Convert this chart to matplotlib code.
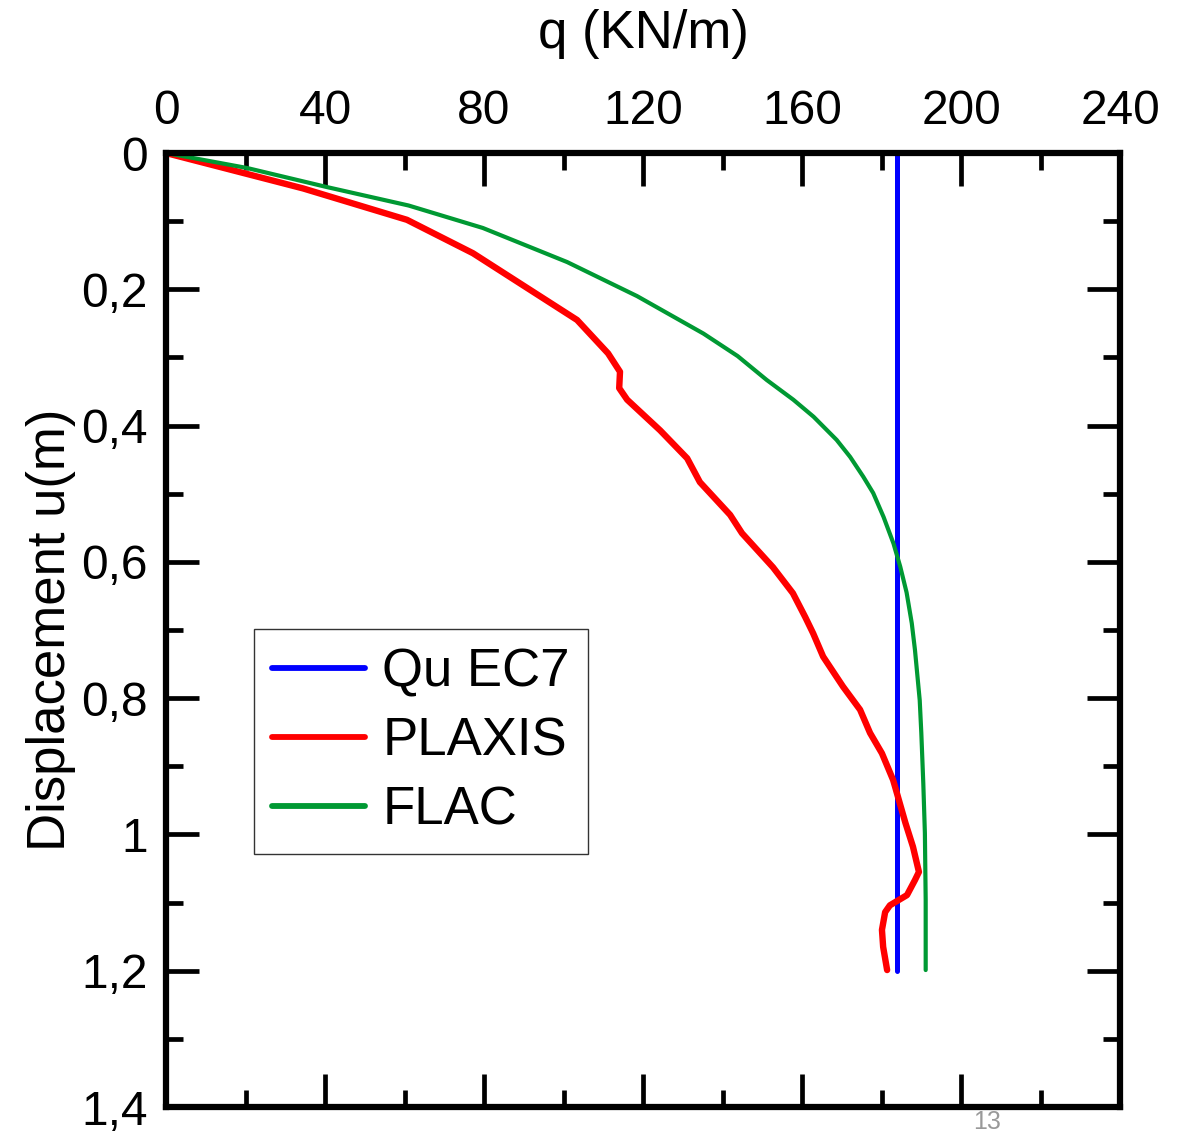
import numpy as np
import matplotlib.pyplot as plt
from matplotlib.ticker import MultipleLocator, FuncFormatter

plt.rcParams['font.family'] = ['Liberation Sans', 'DejaVu Sans']

# Qu EC7 (constant)
qu_ec7 = 184.0
qu_u = [0.0, 1.2]

# PLAXIS
plaxis_q = [0, 34.5, 60.6, 77.2, 103.4, 111.2, 114.2, 114.0, 116.0, 124.3, 131.1, 134.3,
            141.9, 144.9, 152.7, 157.7, 160.8, 162.8, 165.3, 170.3, 174.6, 177.1, 180.1,
            182.9, 183.4, 186.0, 187.9, 189.4, 188.4, 186.4, 182.1, 180.9, 180.1, 180.4, 181.4]
plaxis_u = [0, 0.052, 0.098, 0.147, 0.245, 0.294, 0.321, 0.345, 0.362, 0.407, 0.448, 0.483,
            0.531, 0.558, 0.608, 0.646, 0.681, 0.705, 0.739, 0.783, 0.817, 0.851, 0.881,
            0.920, 0.930, 0.983, 1.018, 1.055, 1.067, 1.089, 1.104, 1.114, 1.140, 1.165, 1.199]

# FLAC
flac_q = [0, 20.4, 40.5, 61.0, 79.7, 100.9, 118.5, 135.2, 143.8, 151.1, 157.8, 162.9,
          168.7, 172.1, 175.4, 177.9, 180.5, 183.0, 184.7, 186.3, 187.6, 188.4, 189.6,
          190.0, 190.5, 190.9, 191.1, 191.1]
flac_u = [0, 0.022, 0.050, 0.077, 0.110, 0.160, 0.210, 0.265, 0.298, 0.333, 0.362, 0.387,
          0.421, 0.446, 0.475, 0.499, 0.534, 0.573, 0.607, 0.645, 0.690, 0.729, 0.803,
          0.851, 0.925, 0.998, 1.096, 1.199]

fig = plt.figure(figsize=(11.81, 11.31), dpi=100)
ax = fig.add_axes([0.1406, 0.0212, 0.8078, 0.8435])

ax.plot([qu_ec7, qu_ec7], qu_u, color='#0000ff', lw=3.6, label='Qu EC7', solid_capstyle='round')
ax.plot(plaxis_q, plaxis_u, color='#ff0000', lw=4.6, label='PLAXIS',
        solid_capstyle='round', solid_joinstyle='round')
ax.plot(flac_q, flac_u, color='#009933', lw=3.0, label='FLAC',
        solid_capstyle='round', solid_joinstyle='round')

ax.set_xlim(0, 240)
ax.set_ylim(1.4, 0)
ax.xaxis.set_major_locator(MultipleLocator(40))
ax.xaxis.set_minor_locator(MultipleLocator(20))
ax.yaxis.set_major_locator(MultipleLocator(0.2))
ax.yaxis.set_minor_locator(MultipleLocator(0.1))
ax.yaxis.set_major_formatter(FuncFormatter(lambda v, p: ('%g' % round(v, 2)).replace('.', ',')))

ax.tick_params(which='both', direction='in', top=True, bottom=True, left=True, right=True,
               labeltop=True, labelbottom=False, width=3.4, labelsize=34.5)
ax.tick_params(axis='x', pad=14)
ax.tick_params(axis='y', pad=13)
ax.tick_params(which='major', length=24)
ax.tick_params(which='minor', length=12)
for s in ax.spines.values():
    s.set_linewidth(4.5)

ax.xaxis.set_label_position('top')
ax.set_xlabel('q (KN/m)', fontsize=38, labelpad=29)
ax.set_ylabel('Displacement u(m)', fontsize=38, labelpad=4)

leg = ax.legend(loc='upper left', bbox_to_anchor=(0.0922, 0.501),
                fontsize=38, frameon=True, fancybox=False, edgecolor='black',
                handlelength=1.76, handletextpad=0.32, borderpad=0.35,
                labelspacing=0.36, borderaxespad=0)
leg.get_frame().set_linewidth(1.0)
for h in leg.get_lines():
    h.set_linewidth(4.2)

fig.text(0.836, 0.002, '13', color='#999999', fontsize=18, ha='center', va='baseline')

fig.savefig('out.png', dpi=100)
